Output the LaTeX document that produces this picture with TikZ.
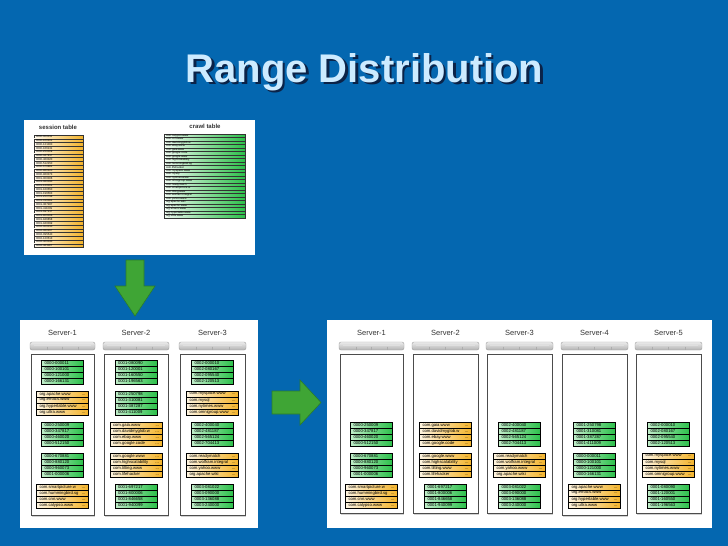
\documentclass[tikz,border=0pt]{standalone}
\usepackage{fontspec}
\setmainfont{Liberation Sans}
\usetikzlibrary{shadows}
\definecolor{slide}{HTML}{0467B0}
\definecolor{titletext}{HTML}{CDEBFF}
\definecolor{titleshade}{HTML}{0B2348}
\definecolor{cellgreen}{HTML}{2CC04A}
\definecolor{cellorange}{HTML}{F3B32B}
\definecolor{arrowgreen}{HTML}{3FA535}
\definecolor{arrowedge}{HTML}{2B7D2A}

\tikzset{
  gcell/.style={draw=black,line width=0.35pt,left color=cellgreen!30,right color=cellgreen,
    minimum height=6pt,inner ysep=0pt,inner xsep=3pt,text width=36pt,align=left,
    font=\fontsize{4.2}{5}\selectfont},
  ocell/.style={gcell,left color=cellorange!15,right color=cellorange,text width=46pt},
  stcell/.style={draw=black!80,line width=0.25pt,left color=cellorange!8,right color=cellorange,
    minimum height=3.75pt,inner sep=0pt,inner xsep=2pt,text width=45pt,align=left,
    font=\fontsize{2.8}{3}\selectfont},
  ctcell/.style={stcell,left color=cellgreen!8,right color=cellgreen,minimum height=3.5pt,text width=77pt},
  tablabel/.style={font=\fontsize{6}{7}\selectfont\bfseries,text=black!80},
  rack/.style={draw=gray!75,rounded corners=2pt,top color=gray!15,bottom color=gray!60,line width=0.4pt},
  srvbox/.style={draw=black!70,fill=white,line width=0.5pt,
    drop shadow={opacity=0.35,shadow xshift=1.2pt,shadow yshift=-1.5pt}},
  srvname/.style={font=\fontsize{7.5}{9}\selectfont,text=black!80},
  blockarrow/.style={draw=arrowedge,line width=0.6pt},
}

% one tablet = four rows
\newcommand{\gblock}[4]{%
  \foreach \v [count=\i] in {#4}
    \node[gcell] (#1-\i) at (#2,{#3+3+6*(\i-1)}) {\v};}
\newcommand{\oblock}[4]{%
  \foreach \v [count=\i] in {#4}
    \node[ocell] (#1-\i) at (#2,{#3+3+6*(\i-1)}) {\v\hspace{\fill}...};}
% server: name, left, right, label, bottom
\newcommand{\srv}[5]{%
  \node[srvname] (#1-name) at ({(#2+#3)/2},333) {#4};
  \draw[rack] ({#2-1},342) rectangle ({#3+1},350);
  \draw[white!75!gray,line width=0.4pt] ({#2+3},345.5) -- ({#3-3},345.5);
  \foreach \t in {0.25,0.5,0.75}
    \draw[gray!65,line width=0.3pt] ({#2+(#3-#2)*\t},346.5) -- ({#2+(#3-#2)*\t},350);
  \draw[srvbox] (#2,354) rectangle (#3,#5);}
% shadowed title text
\newcommand{\shadowtext}[1]{%
  \makebox[0pt][l]{\hspace{2.5pt}\raisebox{-2.5pt}{\color{titleshade}#1}}#1}

\begin{document}
\begin{tikzpicture}[x=1pt,y=-1pt]
    \useasboundingbox (0,0) rectangle (728,546);
    \fill[slide] (0,0) rectangle (728,546);

    \node[anchor=base,text=titletext,font=\fontsize{40}{42}\selectfont\bfseries] (title) at (364.5,82) {\shadowtext{Range Distribution}};

    % the two tables
    \fill[white] (24,120) rectangle (255,255);
    \node[tablabel] (st-lab) at (58,127) {session table};
    \node[tablabel] (ct-lab) at (205,126) {crawl table};
    \foreach \v [count=\i] in {0000-000011,0000-100101,0000-121000,0000-166131,0000-250009,
      0000-347817,0000-460020,0000-512150,0000-670881,0000-880120,0000-960073,0001-000006,
      0001-080090,0001-120001,0001-160550,0001-196563,0001-250798,0001-310081,0001-387287,
      0001-411009,0001-697217,0001-800006,0001-846658,0001-940099,0002-000010,0002-080167,
      0002-095540,0002-120513,0002-400040,0002-481187}
    {
        \node[stcell] (st-\i) at (58.5,{135+3.75*(\i-0.5)}) {\v};
    }
    \foreach \v [count=\i] in {com.calypso.www,com.cnn.www,com.davidmyglob.w,com.ebay.www,
      com.gaia.www,com.google.code,com.google.www,com.highscalability,com.hummingbird.sg,
      com.lifehacker,com.myspace.www,com.mysql,com.nytimes.www,com.omnigroup.www,
      com.readymatch,com.smartpicture.w,com.tilting.www,com.wolfram.integral,com.yahoo.www,
      org.apache.wiki,org.apache.www,org.emacs.www,org.hypertable.www,org.ultra.www}
    {
        \node[ctcell] (ct-\i) at (204.5,{134+3.5*(\i-0.5)}) {\v};
    }

    \draw[blockarrow,left color=arrowgreen,middle color=arrowgreen!55!white,right color=arrowgreen]
      (126,260) -- (144,260) -- (144,286) -- (155,286) -- (135,316) -- (115,286) -- (126,286) -- cycle;

    % three servers
    \fill[white] (20,320) rectangle (258,528);
    \srv{la}{31}{94}{Server-1}{515}
    \srv{lb}{104}{168}{Server-2}{515}
    \srv{lc}{180}{245}{Server-3}{515}
    \gblock{la1}{62.5}{360}{0000-000011,0000-100101,0000-121000,0000-166131}
    \oblock{la2}{62.5}{391}{org.apache.www,org.emacs.www,org.hypertable.www,org.ultra.www}
    \gblock{la3}{62.5}{422}{0000-250009,0000-347817,0000-460020,0000-512150}
    \gblock{la4}{62.5}{453}{0000-670881,0000-880120,0000-960073,0001-000006}
    \oblock{la5}{62.5}{484}{com.smartpicture.w,com.hummingbird.sg,com.cnn.www,com.calypso.www}
    \gblock{lb1}{136}{360}{0001-080090,0001-120001,0001-160550,0001-196563}
    \gblock{lb2}{136}{391}{0001-250798,0001-310081,0001-387287,0001-411009}
    \oblock{lb3}{136}{422}{com.gaia.www,com.davidmyglob.w,com.ebay.www,com.google.code}
    \oblock{lb4}{136}{453}{com.google.www,com.highscalability,com.tilting.www,com.lifehacker}
    \gblock{lb5}{136}{484}{0001-697217,0001-800006,0001-846658,0001-940099}
    \gblock{lc1}{212.5}{360}{0002-000010,0002-080167,0002-095540,0002-120513}
    \oblock{lc2}{212.5}{391}{com.myspace.www,com.mysql,com.nytimes.www,com.omnigroup.www}
    \gblock{lc3}{212.5}{422}{0002-400040,0002-481187,0002-565124,0002-704413}
    \oblock{lc4}{212.5}{453}{com.readymatch,com.wolfram.integral,com.yahoo.www,org.apache.wiki}
    \gblock{lc5}{212.5}{484}{0003-081022,0003-090000,0003-136088,0003-240000}

    \draw[blockarrow,top color=arrowgreen,middle color=arrowgreen!55!white,bottom color=arrowgreen]
      (272,391) -- (300,391) -- (300,380) -- (321,402.5) -- (300,425) -- (300,414) -- (272,414) -- cycle;

    % five servers
    \fill[white] (327,320) rectangle (712,528);
    \srv{ra}{340}{403}{Server-1}{513}
    \srv{rb}{413}{478}{Server-2}{513}
    \srv{rc}{487}{552}{Server-3}{513}
    \srv{rd}{562}{627}{Server-4}{515}
    \srv{re}{636}{701}{Server-5}{513}
    \gblock{ra1}{371.5}{422}{0000-250009,0000-347817,0000-460020,0000-512150}
    \gblock{ra2}{371.5}{453}{0000-670881,0000-880120,0000-960073,0001-000006}
    \oblock{ra3}{371.5}{484}{com.smartpicture.w,com.hummingbird.sg,com.cnn.www,com.calypso.www}
    \oblock{rb1}{445.5}{422}{com.gaia.www,com.davidmyglob.w,com.ebay.www,com.google.code}
    \oblock{rb2}{445.5}{453}{com.google.www,com.highscalability,com.tilting.www,com.lifehacker}
    \gblock{rb3}{445.5}{484}{0001-697217,0001-800006,0001-846658,0001-940099}
    \gblock{rc1}{519.5}{422}{0002-400040,0002-481187,0002-565124,0002-704413}
    \oblock{rc2}{519.5}{453}{com.readymatch,com.wolfram.integral,com.yahoo.www,org.apache.wiki}
    \gblock{rc3}{519.5}{484}{0003-081022,0003-090000,0003-136088,0003-240000}
    \gblock{rd1}{594.5}{422}{0001-250798,0001-310081,0001-387287,0001-411009}
    \gblock{rd2}{594.5}{453}{0000-000011,0000-100101,0000-121000,0000-166131}
    \oblock{rd3}{594.5}{484}{org.apache.www,org.emacs.www,org.hypertable.www,org.ultra.www}
    \gblock{re1}{668.5}{422}{0002-000010,0002-080167,0002-095540,0002-120513}
    \oblock{re2}{668.5}{453}{com.myspace.www,com.mysql,com.nytimes.www,com.omnigroup.www}
    \gblock{re3}{668.5}{484}{0001-080090,0001-120001,0001-160550,0001-196563}
\end{tikzpicture}
\end{document}
